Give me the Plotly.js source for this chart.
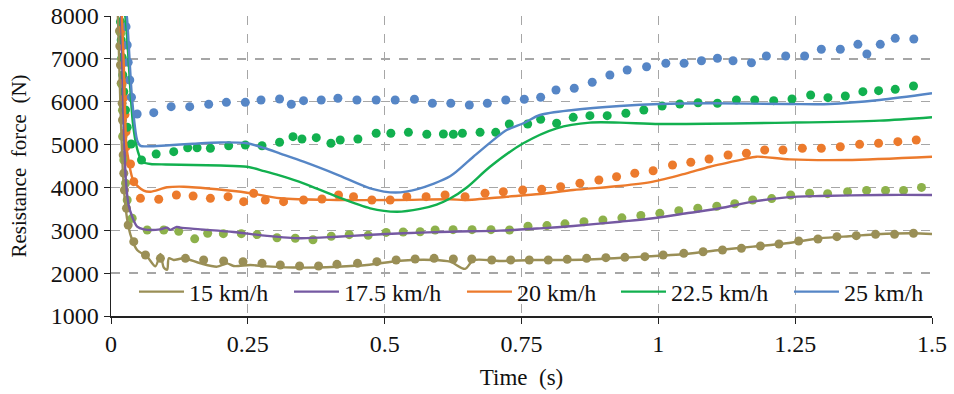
<!DOCTYPE html>
<html>
<head>
<meta charset="utf-8">
<script src="https://cdn.plot.ly/plotly-3.0.1.min.js"></script>
<style>html,body{margin:0;padding:0;background:#fff;}#chart{width:954px;height:394px;}</style>
</head>
<body>
<div id="chart"></div>
<script>
// ---- data ----
const seriesNames = ["15 km/h", "17.5 km/h", "20 km/h", "22.5 km/h", "25 km/h"];

// simulation lines
const t15Line = [0.012,0.017,0.022,0.0265,0.0319,0.0387,0.0478,0.066,0.0812,0.0903,0.0964,0.1026,0.1057,0.1146,0.1328,0.1633,0.1938,0.212,0.2241,0.2546,0.285,0.3458,0.4128,0.4675,0.5283,0.589,0.6195,0.6469,0.662,0.7108,0.7715,0.8325,0.8932,0.948,1.0515,1.1122,1.173,1.234,1.2947,1.3555,1.3982,1.465,1.5];
const f15Line = [8300,6000,4300,3551,3084,2774,2540,2384,2160,2447,2130,2080,2346,2307,2346,2229,2151,2229,2167,2190,2159,2130,2150,2190,2290,2307,2268,2100,2300,2284,2307,2307,2330,2369,2447,2540,2618,2696,2813,2867,2906,2930,2914];

const t175Line = [0.018,0.022,0.027,0.032,0.0387,0.0478,0.0599,0.0903,0.1026,0.1086,0.12,0.1268,0.1633,0.2241,0.285,0.3458,0.4128,0.4675,0.5343,0.6195,0.7108,0.7838,0.8445,0.9297,0.9905,1.0515,1.1122,1.173,1.234,1.2947,1.4042,1.5];
const f175Line = [8300,6000,4200,3600,3317,3084,3022,3022,3061,3010,3080,3061,3022,2960,2870,2813,2850,2890,2930,2967,2991,3045,3100,3200,3280,3396,3513,3668,3769,3800,3824,3824];

const t20Line = [0.019,0.023,0.028,0.0319,0.0416,0.0599,0.0721,0.1026,0.1328,0.1938,0.2485,0.3093,0.4128,0.5223,0.6195,0.6469,0.723,0.7838,0.8445,0.9297,0.9905,1.0515,1.094,1.1547,1.1792,1.24,1.3434,1.5];
const f20Line = [8300,7000,5000,4640,4134,3924,3900,4003,4017,3956,3877,3746,3707,3707,3723,3707,3784,3847,3940,4033,4134,4330,4483,4655,4717,4655,4640,4717];

const t225Line = [0.022,0.027,0.04,0.0478,0.055,0.0599,0.0721,0.1,0.15,0.2,0.2485,0.28,0.3093,0.3518,0.4128,0.4735,0.5223,0.5648,0.595,0.6195,0.65,0.6925,0.7533,0.8142,0.875,0.9297,1.0027,1.24,1.4042,1.5];
const f225Line = [8300,7900,5500,4900,4650,4580,4547,4535,4523,4510,4483,4380,4274,4097,3784,3513,3434,3500,3600,3740,4000,4483,5030,5380,5512,5512,5480,5512,5558,5636];

const t25Line = [0.026,0.0296,0.0387,0.0478,0.0538,0.07,0.1,0.15,0.2,0.2485,0.28,0.3093,0.3518,0.4128,0.4735,0.52,0.56,0.6195,0.662,0.723,0.7533,0.7838,0.8445,0.9297,1.0027,1.094,1.24,1.313,1.4042,1.5];
const f25Line = [8300,7900,6040,5100,4970,4960,4980,5020,5050,5030,4920,4790,4600,4300,3980,3880,3960,4260,4717,5340,5497,5690,5807,5900,5947,5963,5947,5947,6040,6196];

// experimental points
const t15Dot = [0.0155,0.0161,0.0173,0.0186,0.0204,0.0210,0.0215,0.0223,0.0234,0.0246,0.0283,0.0314,0.0416,0.063,0.0903,0.136,0.1693,0.2058,0.2412,0.2759,0.3093,0.3445,0.3792,0.4128,0.4504,0.4858,0.521,0.5557,0.5903,0.6255,0.6591,0.6956,0.7303,0.7642,0.7989,0.8336,0.869,0.9042,0.9389,0.9754,1.0088,1.0465,1.0818,1.1172,1.1518,1.1865,1.2204,1.2564,1.2916,1.3263,1.3617,1.3969,1.4316,1.4662];
const f15Dot = [7650,7300,6857,6430,5963,5573,5184,4757,4330,3940,3513,3123,2735,2423,2346,2346,2307,2284,2268,2229,2190,2167,2167,2206,2229,2268,2307,2330,2346,2330,2330,2307,2307,2307,2307,2322,2346,2361,2369,2384,2423,2462,2500,2540,2579,2633,2680,2750,2797,2852,2874,2906,2906,2930];

const t175Dot = [0.0182,0.0192,0.0201,0.021,0.0219,0.0234,0.0265,0.0296,0.0387,0.0661,0.0964,0.1237,0.1529,0.1766,0.2053,0.2381,0.2668,0.3033,0.3367,0.369,0.4024,0.4352,0.4699,0.5027,0.5338,0.5648,0.5922,0.625,0.6597,0.6943,0.7281,0.7618,0.7965,0.8294,0.8641,0.8987,0.9334,0.9681,1.0027,1.0374,1.0721,1.1068,1.1396,1.1724,1.2071,1.2418,1.2765,1.3093,1.3458,1.3805,1.4151,1.448,1.4808];
const f175Dot = [7600,7000,6400,5800,5200,4640,4097,3707,3280,3007,3007,2975,2800,2930,2922,2922,2900,2825,2813,2780,2860,2898,2882,2950,2960,2967,3007,3015,3015,3015,3007,3095,3110,3150,3200,3240,3290,3345,3396,3458,3513,3560,3620,3707,3740,3824,3863,3855,3900,3930,3930,3930,4000];

const t20Dot = [0.0192,0.0204,0.0215,0.0228,0.0237,0.0255,0.0274,0.0277,0.0356,0.0416,0.0538,0.0872,0.1195,0.15,0.1816,0.2139,0.2423,0.2606,0.2819,0.3153,0.3518,0.3854,0.4157,0.4431,0.4766,0.51,0.5405,0.5757,0.6104,0.6469,0.6834,0.7168,0.7522,0.7869,0.8215,0.8567,0.8914,0.9237,0.957,0.9905,1.0259,1.0593,1.0927,1.1274,1.1609,1.1943,1.2277,1.2631,1.2978,1.3325,1.3677,1.4024,1.4376,1.4712];
const f20Dot = [7700,7300,6900,6500,6100,5700,5300,4950,4547,4134,3746,3723,3824,3800,3746,3784,3668,3863,3707,3668,3707,3730,3824,3784,3707,3707,3784,3784,3824,3784,3863,3900,3940,3956,4017,4097,4173,4250,4330,4390,4523,4587,4663,4757,4797,4874,4874,4913,4913,4950,5006,5030,5068,5107];

const t225Dot = [0.0173,0.0186,0.0204,0.0215,0.0234,0.0265,0.0296,0.0369,0.0557,0.0825,0.1146,0.1401,0.1573,0.1816,0.215,0.2454,0.2759,0.308,0.3325,0.3489,0.375,0.4018,0.4188,0.4511,0.4845,0.5113,0.5434,0.577,0.6073,0.6255,0.642,0.6743,0.7029,0.7277,0.7613,0.785,0.8142,0.8445,0.875,0.9066,0.9407,0.9735,1.0069,1.0392,1.0726,1.108,1.1427,1.1761,1.2108,1.2442,1.2783,1.3099,1.3416,1.3737,1.4024,1.4328,1.4662];
const f225Dot = [7867,7440,7036,6623,6234,5807,5403,5013,4640,4780,4834,4927,4927,4913,4973,4990,4973,5053,5184,5130,5161,5030,5107,5130,5263,5263,5286,5240,5247,5240,5263,5286,5286,5480,5480,5590,5497,5636,5674,5674,5730,5807,5900,5947,5977,5963,6040,6040,6024,6063,6157,6094,6133,6234,6258,6289,6367];

const t25Dot = [0.0275,0.0296,0.0314,0.0343,0.0374,0.0478,0.0781,0.1099,0.1438,0.1785,0.2108,0.2454,0.2741,0.308,0.3294,0.3518,0.3841,0.4146,0.4493,0.4845,0.5192,0.5544,0.5872,0.6208,0.6547,0.6876,0.7212,0.7551,0.785,0.813,0.8464,0.8792,0.9115,0.9431,0.9785,1.0137,1.0471,1.0788,1.108,1.1365,1.1701,1.1974,1.2327,1.2673,1.2978,1.3325,1.3646,1.381,1.4055,1.4328,1.4668];
const f25Dot = [7751,7323,6920,6507,6103,5713,5744,5884,5884,5940,5986,5986,6040,6063,5940,6024,6040,6080,6040,6040,6040,6057,5963,5963,5923,5963,6040,6057,6103,6273,6313,6453,6623,6740,6817,6897,6897,6957,7013,6957,6910,7067,7067,7067,7223,7223,7339,7113,7339,7479,7463];

const xTickVals = [0, 0.25, 0.5, 0.75, 1, 1.25, 1.5];
const xTickText = ["0", "0.25", "0.5", "0.75", "1", "1.25", "1.5"];
const yTickVals = [1000, 2000, 3000, 4000, 5000, 6000, 7000, 8000];

// ---- styling ----
const lineColors = ["#9a8f56", "#7559a2", "#ec7a2c", "#12b04f", "#5686c6"];
const dotColors  = ["#9a8f56", "#8db14b", "#ec7a2c", "#12b04f", "#5686c6"];
const legendIds = ["legend", "legend2", "legend3", "legend4", "legend5"];
const legendX = [0.028, 0.2168, 0.4275, 0.6151, 0.8258];

const lines = [[t15Line,f15Line],[t175Line,f175Line],[t20Line,f20Line],[t225Line,f225Line],[t25Line,f25Line]];
const dots  = [[t15Dot,f15Dot],[t175Dot,f175Dot],[t20Dot,f20Dot],[t225Dot,f225Dot],[t25Dot,f25Dot]];

const traces = [];
dots.forEach((d, i) => {
  traces.push({x: d[0], y: d[1], type: 'scatter', mode: 'markers', showlegend: false,
    marker: {color: dotColors[i], size: 9}, hoverinfo: 'skip'});
});
lines.forEach((d, i) => {
  traces.push({x: d[0], y: d[1], type: 'scatter', mode: 'lines', name: seriesNames[i],
    legend: legendIds[i],
    line: {color: lineColors[i], width: 2.4, shape: 'spline', smoothing: 0.8}});
});

const fontFam = 'Liberation Serif, Times New Roman, serif';
const layout = {
  width: 954, height: 394,
  margin: {l: 111, r: 22, t: 16, b: 78},
  paper_bgcolor: '#fff', plot_bgcolor: '#fff',
  font: {family: fontFam, size: 24, color: '#111'},
  showlegend: true,
  xaxis: {range: [0, 1.5], tickvals: xTickVals, ticktext: xTickText,
    showgrid: true, gridcolor: '#a6a6a6', griddash: 'dash', gridwidth: 1.3,
    showline: true, linecolor: '#222', linewidth: 1.5, ticks: 'outside', ticklen: 6, tickcolor: '#222',
    zeroline: false, tickfont: {family: fontFam, size: 24, color: '#111'},
    title: {text: 'Time\u00a0 (s)', font: {family: fontFam, size: 23, color: '#111'}, standoff: 12}},
  yaxis: {range: [1000, 8000], tickvals: yTickVals,
    showgrid: true, gridcolor: '#a6a6a6', griddash: 'dash', gridwidth: 1.3,
    showline: true, linecolor: '#222', linewidth: 1.5, ticks: 'outside', ticklen: 6, tickcolor: '#222',
    zeroline: false, tickfont: {family: fontFam, size: 24, color: '#111'},
    title: {text: 'Resistance\u00a0 force\u00a0 (N)', font: {family: fontFam, size: 21, color: '#111'}, standoff: 18}}
};
legendIds.forEach((id, i) => {
  layout[id] = {orientation: 'h', x: legendX[i], y: 0.005, xanchor: 'left', yanchor: 'bottom',
    bgcolor: 'rgba(0,0,0,0)', font: {family: fontFam, size: 24, color: '#111'}, itemwidth: 45};
});

Plotly.newPlot('chart', traces, layout, {displayModeBar: false, staticPlot: true});
</script>
</body>
</html>
